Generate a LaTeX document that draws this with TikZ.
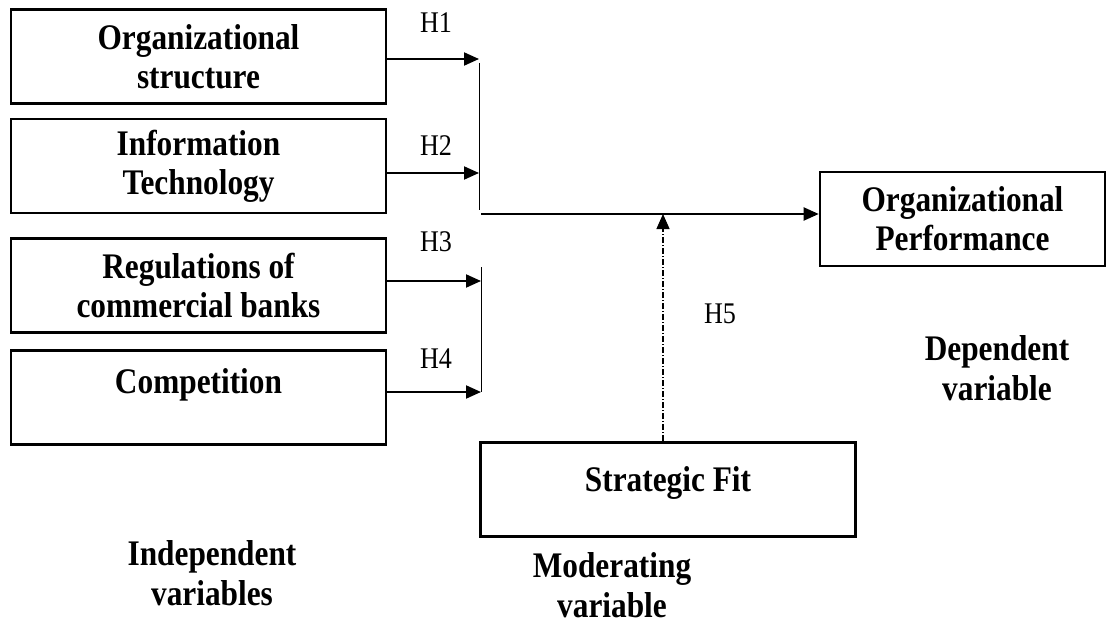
\documentclass[tikz,border=0pt]{standalone}
\usepackage{fontspec}
\setmainfont{Liberation Serif}[FakeStretch=0.87]
\usetikzlibrary{arrows.meta,positioning}

\begin{document}
\begin{tikzpicture}[x=0.5pt,y=-0.5pt,
  box/.style={draw,line width=1.3pt,align=center,font=\bfseries\fontsize{18}{19.5}\selectfont,minimum width=187.5pt,minimum height=47pt,inner sep=0pt},
  hyp/.style={font=\fontsize{15}{18}\selectfont,inner sep=0pt},
  lab/.style={align=center,font=\bfseries\fontsize{18}{20}\selectfont,inner sep=0pt},
  f/.style={-{Triangle[length=7.5pt,width=6.5pt]},line width=1pt},
  bar/.style={line width=0.5pt}]
\useasboundingbox (0,0) rectangle (1107,626);
% independent variables
\node[box] (os) at (198.5,56.5) {Organizational\\structure};
\node[box,below=6.5pt of os] (it) {Information\\Technology};
\node[box,below=11.5pt of it] (reg) {Regulations of\\commercial banks};
\node[box,below=7.5pt of reg,text height=12pt,text depth=15.5pt] (comp) {Competition};
% dependent and moderating
\node[box,minimum width=142.5pt] (perf) at (962.5,219) {Organizational\\Performance};
\node[box,text height=12pt,text depth=10pt] (fit) at (668,489.5) {Strategic Fit};
% junctions
\coordinate (t1) at (479,59);
\coordinate (t2) at (479,173);
\coordinate (t3) at (481,281);
\coordinate (t4) at (481,392);
\coordinate (top1) at (479,63);
\coordinate (bot1) at (479,210);
\coordinate (top2) at (481,267);
\coordinate (m) at (481,214);
\coordinate (mod) at (663,214);
\draw[f] (os.east |- t1) -- (t1);
\draw[f] (it.east |- t2) -- (t2);
\draw[f] (reg.east |- t3) -- (t3);
\draw[f] (comp.east |- t4) -- (t4);
\draw[bar] (top1) -- (bot1);
\draw[bar] (top2) -- (t4);
\draw[f] (m) -- (m -| perf.west);
\draw[f,line width=0.6pt,dash pattern=on 3pt off 1pt on 0.5pt off 1pt] (mod |- fit.north) -- (mod);
% hypotheses
\node[hyp] (h1) at (436,23) {H1};
\node[hyp] (h2) at (436,146) {H2};
\node[hyp] (h3) at (436,242) {H3};
\node[hyp] (h4) at (436,359) {H4};
\node[hyp] (h5) at (720,314) {H5};
% captions
\node[lab] (indep) at (212,573) {Independent\\variables};
\node[lab] (modv) at (612,585) {Moderating\\variable};
\node[lab] (dep) at (997,368) {Dependent\\variable};
\end{tikzpicture}
\end{document}
